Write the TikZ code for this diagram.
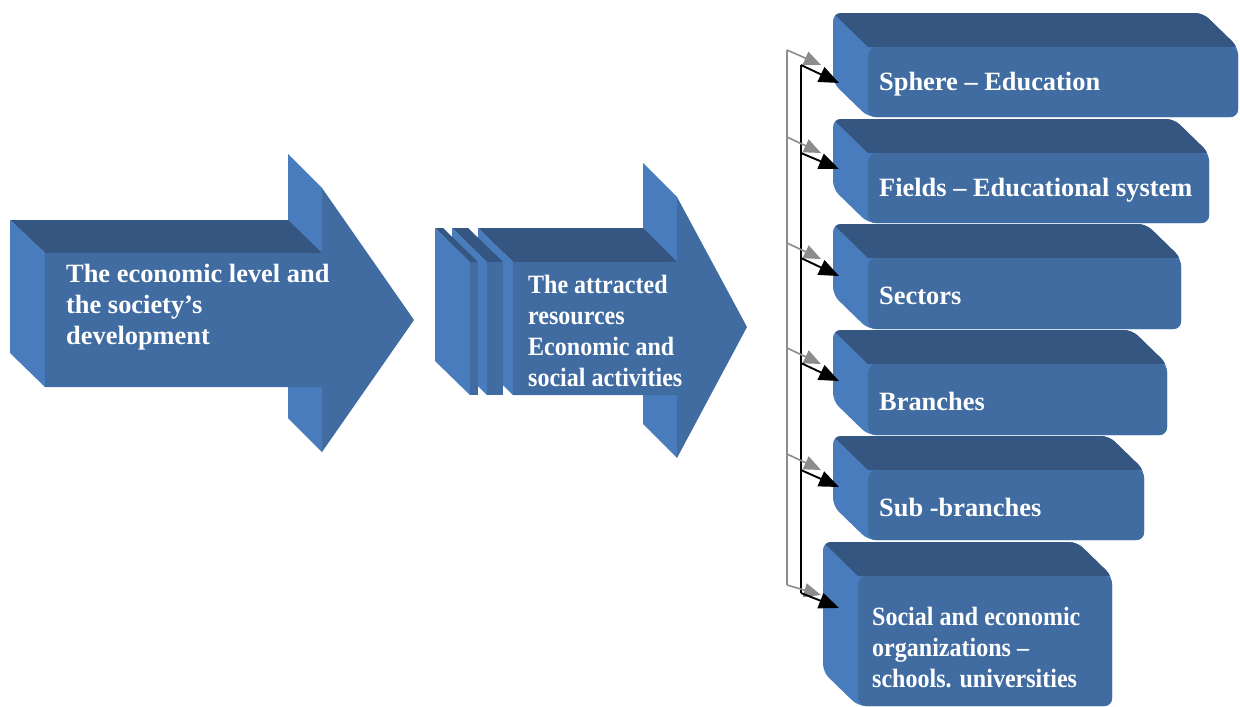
\documentclass[tikz,border=0pt]{standalone}
\usepackage{fontspec}
\setmainfont{Liberation Serif}
\newfontfamily\condfont[FakeStretch=0.91]{Liberation Serif}
\usetikzlibrary{arrows.meta}
\definecolor{frontc}{RGB}{65,108,162}
\definecolor{topc}{RGB}{52,86,128}
\definecolor{sidec}{RGB}{73,124,188}
\definecolor{wiregray}{RGB}{140,140,140}
\newcommand{\cubebox}[5]{% #1 name, #2 x0, #3 y0, #4 w, #5 h
  \begin{scope}
    \clip[rounded corners=8pt] (#2,#3) -- (#2+#4,#3) -- (#2+#4+35,#3+34) -- (#2+#4+35,#3+#5+34) -- (#2+35,#3+#5+34) -- (#2,#3+#5) -- cycle;
    \fill[sidec] (#2-12,#3-12) rectangle (#2+#4+50,#3+#5+50);
    \fill[topc] (#2-10.3,#3-10) -- (#2+#4+50,#3-10) -- (#2+#4+50,#3+34) -- (#2+35,#3+34) -- cycle;
  \end{scope}
  \node[frontbox, minimum width=#4pt, minimum height=#5pt] (#1) at (#2+35,#3+34) {};
}
\begin{document}
\begin{tikzpicture}[x=1pt,y=-1pt,
  lbl/.style={text=white, font=\fontsize{26.4}{31}\selectfont\bfseries, align=left, inner sep=0pt, anchor=west},
  condlbl/.style={lbl, font=\condfont\fontsize{26.4}{31}\selectfont\bfseries},
  frontbox/.style={fill=frontc, rounded corners=8pt, anchor=north west, inner sep=0pt},
  graywire/.style={draw=wiregray, line width=1.6pt},
  blackwire/.style={draw=black, line width=1.9pt},
  grayarrow/.style={graywire, -{Triangle[length=17pt,width=14pt]}},
  blackarrow/.style={blackwire, -{Triangle[length=20pt,width=16pt]}}]
\useasboundingbox (0,0) rectangle (1240,707);

% ---- first arrow
\fill[sidec] (288,154) -- (322,188) -- (322,452) -- (288,418) -- cycle;
\fill[topc] (10,220) -- (288,220) -- (322,253) -- (45,253) -- cycle;
\fill[sidec] (10,220) -- (45,253) -- (45,387) -- (10,353) -- cycle;
\fill[frontc] (45,253) -- (322,253) -- (322,188) -- (414,320) -- (322,452) -- (322,387) -- (45,387) -- cycle;
\node[lbl] (t1) at (66,307) {The economic level and\\the society’s\\development};

% ---- second (striped) arrow
\fill[sidec] (643,163) -- (677,197) -- (677,458) -- (643,424) -- cycle;
\fill[topc] (478,228) -- (643,228) -- (677,262) -- (513,262) -- cycle;
\fill[sidec] (478,228) -- (513,262) -- (513,395) -- (478,361) -- cycle;
\fill[frontc] (513,262) -- (677,262) -- (677,197) -- (747,327) -- (677,458) -- (677,395) -- (513,395) -- cycle;
\fill[topc] (452,228) -- (468,228) -- (503,262) -- (487,262) -- cycle;
\fill[sidec] (452,228) -- (487,262) -- (487,395) -- (452,361) -- cycle;
\fill[frontc] (487,262) rectangle (503,395);
\fill[topc] (435,228) -- (443,228) -- (478,262) -- (470,262) -- cycle;
\fill[sidec] (435,228) -- (470,262) -- (470,395) -- (435,361) -- cycle;
\fill[frontc] (470,262) rectangle (478,395);
\node[condlbl] (t2) at (528,331) {The attracted\\resources\\Economic and\\social activities};

% ---- boxes
\cubebox{s1}{833}{13}{370}{70}
\cubebox{s2}{833}{119}{341}{70}
\cubebox{s3}{833}{224}{313}{71}
\cubebox{s4}{833}{330}{299}{71}
\cubebox{s5}{833}{436}{276}{70}
\cubebox{s6}{823}{542}{254}{130}
\node[lbl] (l1) at ([shift={(11,2)}]s1.west) {Sphere – Education};
\node[lbl] (l2) at ([shift={(11,2)}]s2.west) {Fields – Educational system};
\node[lbl] (l3) at ([shift={(11,2)}]s3.west) {Sectors};
\node[lbl] (l4) at ([shift={(11,2)}]s4.west) {Branches};
\node[lbl] (l5) at ([shift={(11,2)}]s5.west) {Sub -branches};
\node[condlbl] (l6) at ([shift={(14,6)}]s6.west) {Social and economic\\organizations –\\schools. universities};

% ---- connectors
\coordinate (g1) at (787,50);  \coordinate (gt1) at (821,65);
\coordinate (g2) at (787,137); \coordinate (gt2) at (821,153);
\coordinate (g3) at (787,243); \coordinate (gt3) at (821,259);
\coordinate (g4) at (787,348); \coordinate (gt4) at (821,364);
\coordinate (g5) at (787,454); \coordinate (gt5) at (821,470);
\coordinate (g6) at (787,585); \coordinate (gt6) at (821,595);
\coordinate (b1) at (801,65);  \coordinate (bt1) at (839,83);
\coordinate (b2) at (801,153); \coordinate (bt2) at (839,169);
\coordinate (b3) at (801,258); \coordinate (bt3) at (839,276);
\coordinate (b4) at (801,363); \coordinate (bt4) at (839,381);
\coordinate (b5) at (801,470); \coordinate (bt5) at (839,487);
\coordinate (b6) at (801,593); \coordinate (bt6) at (839,608);

\draw[graywire] (g1) -- (g6);
\draw[blackwire] (b1) -- (b6);
\foreach \i in {1,...,6}{
  \draw[grayarrow] (g\i) -- (gt\i);
  \draw[blackarrow] (b\i) -- (bt\i);
}
\end{tikzpicture}
\end{document}
